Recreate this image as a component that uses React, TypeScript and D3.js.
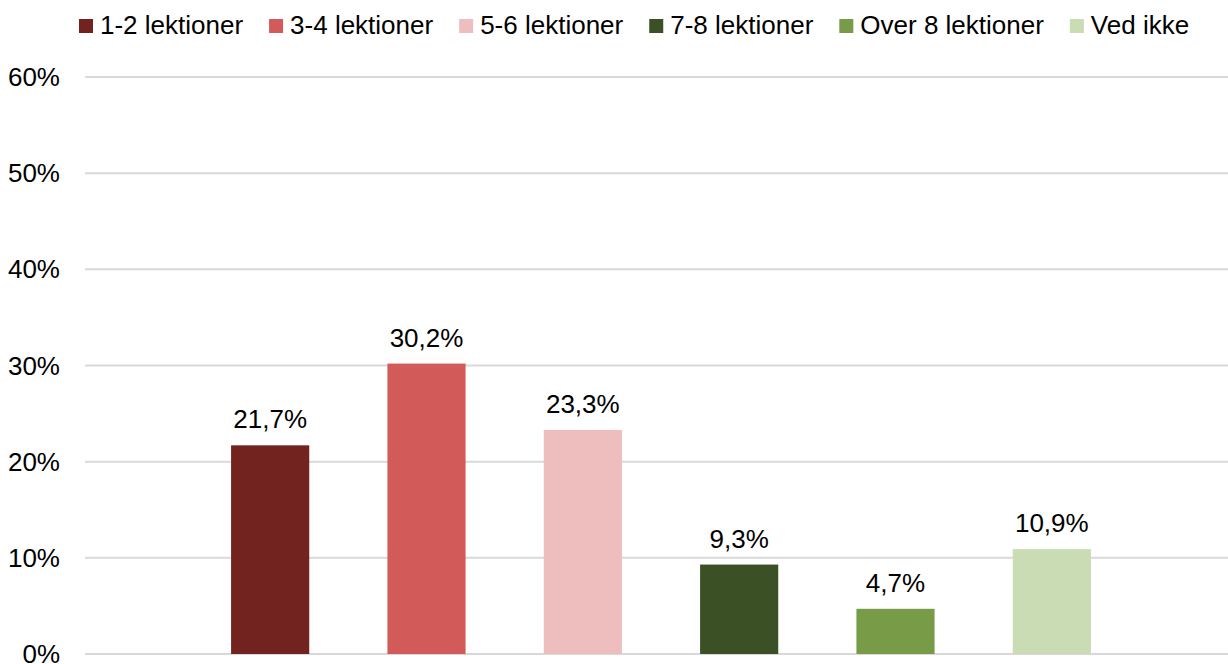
import React, { useEffect, useRef } from 'react'
import * as d3 from 'd3'

const categories = ['1-2 lektioner', '3-4 lektioner', '5-6 lektioner', '7-8 lektioner', 'Over 8 lektioner', 'Ved ikke']
const values = [21.7, 30.2, 23.3, 9.3, 4.7, 10.9]
const colors = ['#722320', '#D25B5A', '#EEBEBE', '#3C5026', '#789B48', '#C9DCB4']
const yTicks = [0, 10, 20, 30, 40, 50, 60]

const W = 1228
const H = 664
const FONT = "'Liberation Sans', Arial, sans-serif"

export default function App() {
  const svgRef = useRef<SVGSVGElement>(null)

  useEffect(() => {
    if (!svgRef.current) return
    const svg = d3.select(svgRef.current)
    svg.selectAll('*').remove()

    const y = d3.scaleLinear().domain([0, 60]).range([654, 77])
    const x = d3
      .scaleBand<string>()
      .domain(categories)
      .range([192, 1130])
      .paddingInner(0.5)
      .paddingOuter(0.25)

    // gridlines
    svg
      .append('g')
      .selectAll('line')
      .data(yTicks)
      .join('line')
      .attr('x1', 85)
      .attr('x2', W)
      .attr('y1', d => y(d))
      .attr('y2', d => y(d))
      .attr('stroke', '#D9D9D9')
      .attr('stroke-width', 2)

    // y tick labels
    svg
      .append('g')
      .selectAll('text')
      .data(yTicks)
      .join('text')
      .attr('x', 60)
      .attr('y', d => y(d))
      .attr('dy', '0.35em')
      .attr('text-anchor', 'end')
      .style('font-family', FONT)
      .style('font-size', '26px')
      .attr('fill', '#000')
      .text(d => `${d}%`)

    // bars
    svg
      .append('g')
      .selectAll('rect')
      .data(values)
      .join('rect')
      .attr('x', (_, i) => x(categories[i])!)
      .attr('width', x.bandwidth())
      .attr('y', d => y(d))
      .attr('height', d => y(0) - y(d))
      .attr('fill', (_, i) => colors[i])

    // value labels
    svg
      .append('g')
      .selectAll('text')
      .data(values)
      .join('text')
      .attr('x', (_, i) => x(categories[i])! + x.bandwidth() / 2)
      .attr('y', d => y(d) - 17)
      .attr('text-anchor', 'middle')
      .style('font-family', FONT)
      .style('font-size', '26px')
      .attr('fill', '#000')
      .text(d => `${d.toFixed(1).replace('.', ',')}%`)

    // legend
    const legend = svg.append('g')
    let cx = 79
    categories.forEach((c, i) => {
      legend
        .append('rect')
        .attr('x', cx)
        .attr('y', 19)
        .attr('width', 14)
        .attr('height', 14)
        .attr('fill', colors[i])
      const t = legend
        .append('text')
        .attr('x', cx + 21)
        .attr('y', 34)
        .style('font-family', FONT)
        .style('font-size', '26px')
        .attr('fill', '#000')
        .text(c)
      const w = (t.node() as SVGTextElement).getComputedTextLength()
      cx += 21 + w + 26
    })
  }, [])

  return (
    <svg
      ref={svgRef}
      width={W}
      height={H}
      style={{ position: 'absolute', left: 0, top: 0, background: '#fff' }}
    />
  )
}
